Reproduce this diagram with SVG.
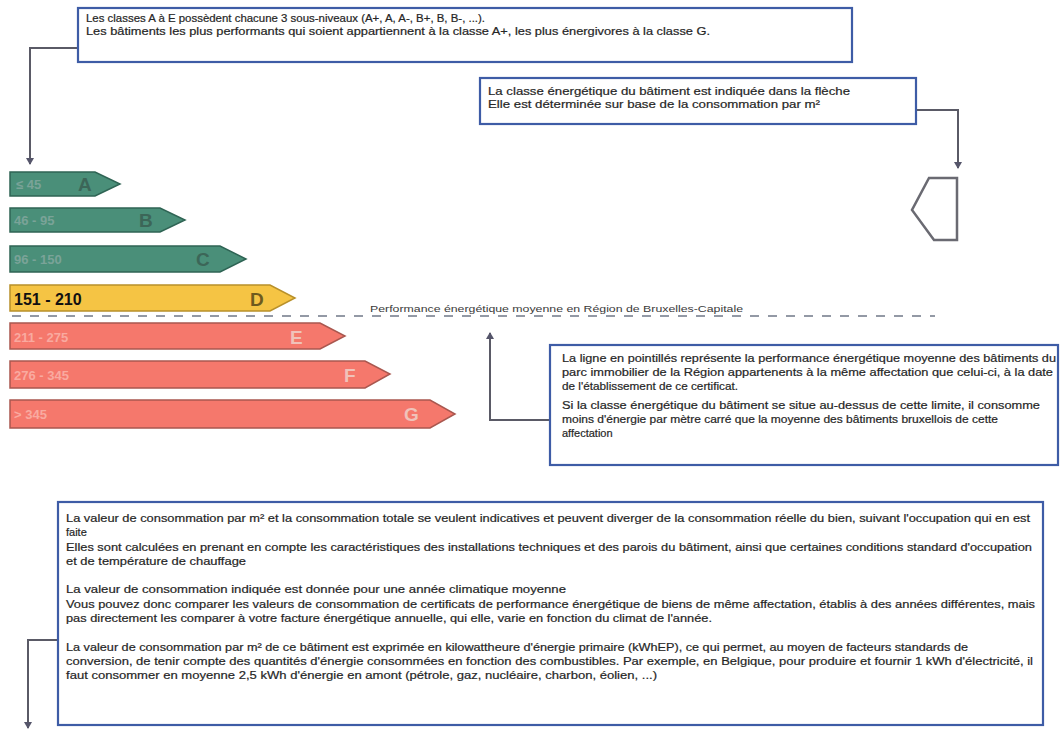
<svg xmlns="http://www.w3.org/2000/svg" width="1061" height="731" viewBox="0 0 1061 731">
<style>
.box{fill:#fff;stroke:#3e5ca6;stroke-width:2.2}
.t{font-family:"Liberation Sans",Arial,sans-serif;font-size:11px;fill:#262626;stroke:#262626;stroke-width:0.2}
.s{font-size:10.5px}
.con{fill:none;stroke:#5a5a66;stroke-width:2}
.green{fill:#4a8f79;stroke:#2f6454;stroke-width:1.5}
.yellow{fill:#f5c444;stroke:#b8902a;stroke-width:1.5}
.red{fill:#f5786c;stroke:#a9574f;stroke-width:1.5}
.gl{font-family:"Liberation Sans",Arial,sans-serif;font-weight:bold;font-size:13px;fill:#7aa398}
.gL{font-family:"Liberation Sans",Arial,sans-serif;font-weight:bold;font-size:19px;fill:#3c6658}
.rl{font-family:"Liberation Sans",Arial,sans-serif;font-weight:bold;font-size:13px;fill:#f9aaa0}
.rL{font-family:"Liberation Sans",Arial,sans-serif;font-weight:bold;font-size:19px;fill:#f0c2ba}
</style>
<defs>
<marker id="ah" markerWidth="8" markerHeight="8" refX="6" refY="4" orient="auto" markerUnits="userSpaceOnUse">
<path d="M0,0 L7,4 L0,8 Z" fill="#55556a"/>
</marker>
</defs>
<rect width="1061" height="731" fill="#fff"/>

<g id="connectors">
<path class="con" d="M78,48 H30 V164" marker-end="url(#ah)"/>
<path class="con" d="M916,110 H958 V168" marker-end="url(#ah)"/>
<path class="con" d="M550,420 H490 V333" marker-end="url(#ah)"/>
<path class="con" d="M58,640 H28 V728" marker-end="url(#ah)"/>
</g>

<g id="note-classes">
<rect class="box" x="78" y="8" width="774" height="54"/>
<text class="t s" x="86" y="22" textLength="399" lengthAdjust="spacingAndGlyphs">Les classes A à E possèdent chacune 3 sous-niveaux (A+, A, A-, B+, B, B-, ...).</text>
<text class="t s" x="86" y="35" textLength="624" lengthAdjust="spacingAndGlyphs">Les bâtiments les plus performants qui soient appartiennent à la classe A+, les plus énergivores à la classe G.</text>
</g>

<g id="note-arrow">
<rect class="box" x="480" y="78" width="436" height="46"/>
<text class="t" x="488" y="95" textLength="362" lengthAdjust="spacingAndGlyphs">La classe énergétique du bâtiment est indiquée dans la flèche</text>
<text class="t" x="488" y="108" textLength="332" lengthAdjust="spacingAndGlyphs">Elle est déterminée sur base de la consommation par m²</text>
</g>

<g id="class-arrow">
<polygon points="929,178 957,178 957,240 934,240 912,210" fill="#fff" stroke="#6a6a72" stroke-width="2.5"/>
</g>

<g id="bar-A">
<polygon class="green" points="10,172 95,172 120,184 95,196 10,196"/>
<text class="gl" x="16" y="189">≤ 45</text>
<text class="gL" x="78" y="191">A</text>
</g>
<g id="bar-B">
<polygon class="green" points="10,208 160,208 185,220 160,232 10,232"/>
<text class="gl" x="14" y="225">46 - 95</text>
<text class="gL" x="139" y="227">B</text>
</g>
<g id="bar-C">
<polygon class="green" points="10,246 220,246 246,259 220,272 10,272"/>
<text class="gl" x="14" y="264">96 - 150</text>
<text class="gL" x="196" y="266">C</text>
</g>
<g id="bar-D">
<polygon class="yellow" points="10,285 270,285 295,298 270,311 10,311"/>
<text x="14" y="305" font-family="'Liberation Sans',Arial,sans-serif" font-weight="bold" font-size="16" fill="#111">151 - 210</text>
<text x="250" y="306" font-family="'Liberation Sans',Arial,sans-serif" font-weight="bold" font-size="19" fill="#6e5a1e">D</text>
</g>
<g id="bar-E">
<polygon class="red" points="10,323 320,323 345,336 320,349 10,349"/>
<text class="rl" x="14" y="342">211 - 275</text>
<text class="rL" x="290" y="344">E</text>
</g>
<g id="bar-F">
<polygon class="red" points="10,361 365,361 390,374 365,388 10,388"/>
<text class="rl" x="14" y="380">276 - 345</text>
<text class="rL" x="344" y="382">F</text>
</g>
<g id="bar-G">
<polygon class="red" points="10,400 430,400 455,414 430,428 10,428"/>
<text class="rl" x="14" y="419">&gt; 345</text>
<text class="rL" x="404" y="421">G</text>
</g>

<g id="average-line">
<line x1="12" y1="316" x2="935" y2="316" stroke="#707888" stroke-width="1.5" stroke-dasharray="9,9"/>
<text x="370" y="312" font-family="'Liberation Sans',Arial,sans-serif" font-size="9.5" fill="#3a3a3a" textLength="373" lengthAdjust="spacingAndGlyphs">Performance énergétique moyenne en Région de Bruxelles-Capitale</text>
</g>

<g id="note-line">
<rect class="box" x="550" y="345" width="508" height="120"/>
<text class="t" x="562" y="362" textLength="494" lengthAdjust="spacingAndGlyphs">La ligne en pointillés représente la performance énergétique moyenne des bâtiments du</text>
<text class="t" x="562" y="376" textLength="491" lengthAdjust="spacingAndGlyphs">parc immobilier de la Région appartenents à la même affectation que celui-ci, à la date</text>
<text class="t" x="562" y="390" textLength="176" lengthAdjust="spacingAndGlyphs">de l'établissement de ce certificat.</text>
<text class="t" x="562" y="409" textLength="478" lengthAdjust="spacingAndGlyphs">Si la classe énergétique du bâtiment se situe au-dessus de cette limite, il consomme</text>
<text class="t" x="562" y="423" textLength="436" lengthAdjust="spacingAndGlyphs">moins d'énergie par mètre carré que la moyenne des bâtiments bruxellois de cette</text>
<text class="t" x="562" y="437">affectation</text>
</g>

<g id="note-consumption">
<rect class="box" x="58" y="502" width="985" height="223"/>
<text class="t" x="66" y="522" textLength="964" lengthAdjust="spacingAndGlyphs">La valeur de consommation par m² et la consommation totale se veulent indicatives et peuvent diverger de la consommation réelle du bien, suivant l'occupation qui en est</text>
<text class="t" x="66" y="536">faite</text>
<text class="t" x="66" y="551" textLength="966" lengthAdjust="spacingAndGlyphs">Elles sont calculées en prenant en compte les caractéristiques des installations techniques et des parois du bâtiment, ainsi que certaines conditions standard d'occupation</text>
<text class="t" x="66" y="565" textLength="180" lengthAdjust="spacingAndGlyphs">et de température de chauffage</text>
<text class="t" x="66" y="593" textLength="500" lengthAdjust="spacingAndGlyphs">La valeur de consommation indiquée est donnée pour une année climatique moyenne</text>
<text class="t" x="66" y="608" textLength="969" lengthAdjust="spacingAndGlyphs">Vous pouvez donc comparer les valeurs de consommation de certificats de performance énergétique de biens de même affectation, établis à des années différentes, mais</text>
<text class="t" x="66" y="622" textLength="646" lengthAdjust="spacingAndGlyphs">pas directement les comparer à votre facture énergétique annuelle, qui elle, varie en fonction du climat de l'année.</text>
<text class="t" x="66" y="651" textLength="902" lengthAdjust="spacingAndGlyphs">La valeur de consommation par m² de ce bâtiment est exprimée en kilowattheure d'énergie primaire (kWhEP), ce qui permet, au moyen de facteurs standards de</text>
<text class="t" x="66" y="665" textLength="967" lengthAdjust="spacingAndGlyphs">conversion, de tenir compte des quantités d'énergie consommées en fonction des combustibles. Par exemple, en Belgique, pour produire et fournir 1 kWh d'électricité, il</text>
<text class="t" x="66" y="679" textLength="591" lengthAdjust="spacingAndGlyphs">faut consommer en moyenne 2,5 kWh d'énergie en amont (pétrole, gaz, nucléaire, charbon, éolien, ...)</text>
</g>
</svg>
